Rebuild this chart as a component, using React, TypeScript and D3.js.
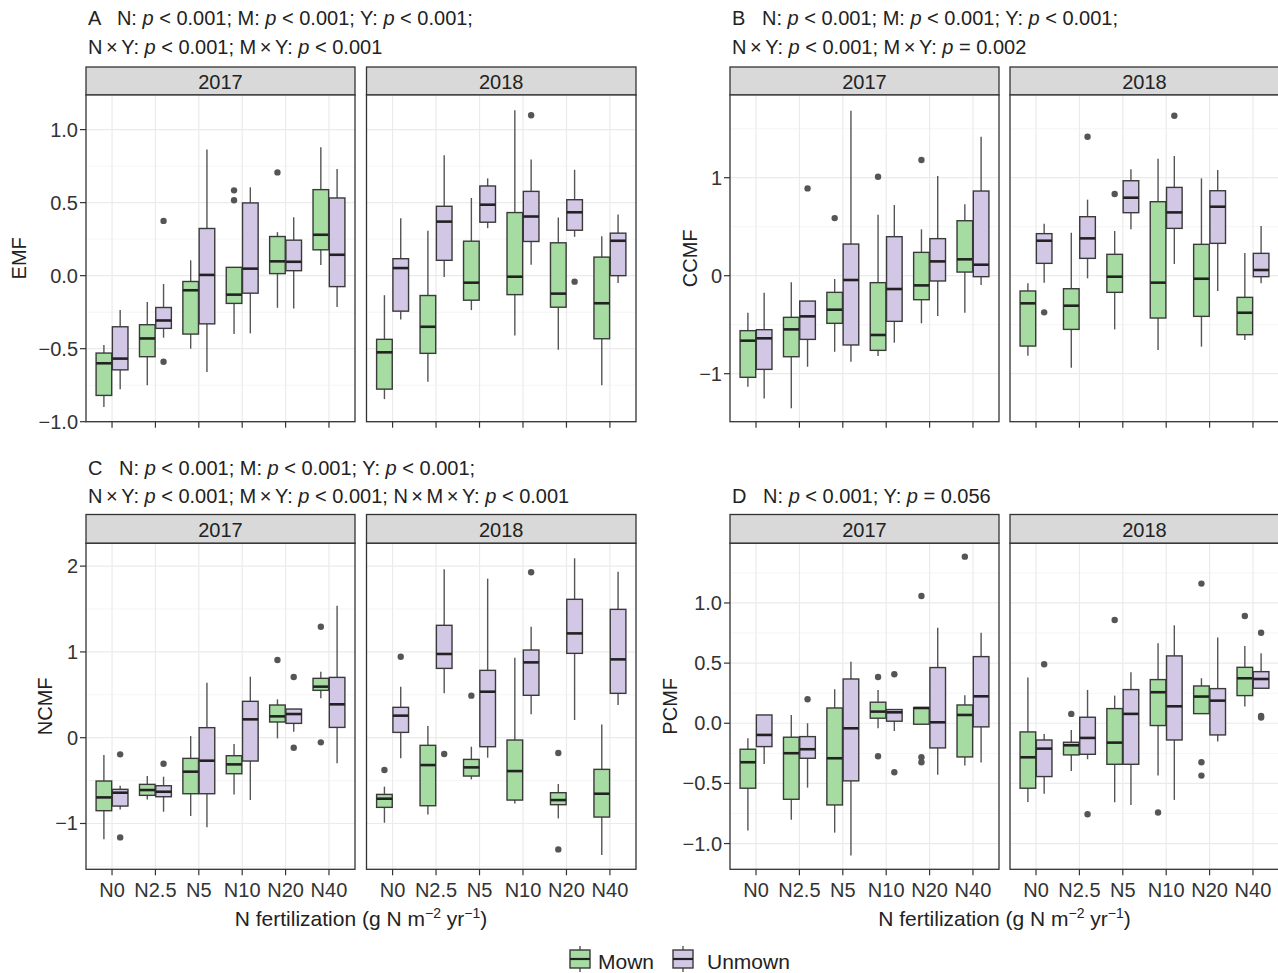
import * as d3 from "d3";

const levels = ["N0", "N2.5", "N5", "N10", "N20", "N40"];
const years = ["2017", "2018"];
const groups = ["Mown", "Unmown"];
const fillColor: Record<string, string> = { Mown: "#a6dba1", Unmown: "#d2c7e4" };

// box stats per N level: [lower whisker, Q1, median, Q3, upper whisker]
const emf2017Mown = [[-0.9, -0.82, -0.6, -0.53, -0.475], [-0.75, -0.555, -0.43, -0.336, -0.18], [-0.5, -0.4, -0.1, -0.04, 0.105], [-0.4, -0.19, -0.13, 0.057, 0.057], [-0.22, 0.014, 0.098, 0.268, 0.298], [0.073, 0.177, 0.28, 0.589, 0.88]];
const emf2017Unmown = [[-0.777, -0.645, -0.568, -0.35, -0.236], [-0.425, -0.361, -0.307, -0.218, -0.057], [-0.66, -0.33, 0.005, 0.323, 0.864], [-0.395, -0.12, 0.048, 0.498, 0.605], [-0.225, 0.034, 0.095, 0.243, 0.4], [-0.214, -0.075, 0.143, 0.532, 0.73]];
const emf2018Mown = [[-0.845, -0.777, -0.525, -0.436, -0.134], [-0.727, -0.532, -0.35, -0.136, 0.307], [-0.236, -0.168, -0.048, 0.236, 0.532], [-0.409, -0.13, -0.007, 0.432, 1.132], [-0.507, -0.216, -0.123, 0.225, 0.398], [-0.75, -0.432, -0.189, 0.127, 0.27]];
const emf2018Unmown = [[-0.3, -0.243, 0.052, 0.116, 0.393], [-0.009, 0.105, 0.37, 0.475, 0.825], [0.325, 0.366, 0.486, 0.614, 0.666], [0.075, 0.234, 0.405, 0.577, 0.795], [0.266, 0.311, 0.434, 0.52, 0.725], [-0.05, 0.0, 0.239, 0.291, 0.418]];
const emf2017MownOut = [[], [], [], [0.584, 0.516], [0.707], []];
const emf2017UnmownOut = [[], [0.375, -0.59], [], [], [], []];
const emf2018MownOut = [[], [], [], [], [], []];
const emf2018UnmownOut = [[], [], [], [1.098], [-0.041], []];

const ccmf2017Mown = [[-1.133, -1.037, -0.663, -0.561, -0.378], [-1.354, -0.827, -0.548, -0.425, -0.068], [-0.776, -0.486, -0.347, -0.17, -0.034], [-0.82, -0.762, -0.605, -0.071, 0.622], [-0.486, -0.245, -0.099, 0.238, 0.473], [-0.378, 0.037, 0.167, 0.561, 0.728]];
const ccmf2017Unmown = [[-1.252, -0.956, -0.639, -0.551, -0.173], [-0.929, -0.65, -0.415, -0.259, -0.259], [-0.878, -0.707, -0.044, 0.323, 1.684], [-0.684, -0.466, -0.136, 0.398, 0.721], [-0.412, -0.054, 0.146, 0.378, 1.017], [-0.095, -0.01, 0.112, 0.864, 1.418]];
const ccmf2018Mown = [[-0.816, -0.718, -0.282, -0.156, -0.078], [-0.939, -0.548, -0.306, -0.133, 0.439], [-0.548, -0.17, -0.01, 0.218, 0.456], [-0.759, -0.432, -0.071, 0.755, 1.194], [-0.724, -0.415, -0.031, 0.32, 0.993], [-0.656, -0.602, -0.378, -0.221, 0.231]];
const ccmf2018Unmown = [[-0.071, 0.126, 0.357, 0.429, 0.531], [-0.027, 0.177, 0.381, 0.602, 0.776], [0.473, 0.643, 0.796, 0.969, 1.085], [0.119, 0.483, 0.646, 0.901, 1.221], [-0.156, 0.33, 0.704, 0.867, 1.078], [-0.078, -0.01, 0.058, 0.228, 0.507]];
const ccmf2017MownOut = [[], [], [0.588], [1.01], [1.18], []];
const ccmf2017UnmownOut = [[], [0.891], [], [], [], []];
const ccmf2018MownOut = [[], [], [0.833], [], [], []];
const ccmf2018UnmownOut = [[-0.374], [1.418], [], [1.633], [], []];

const ncmf2017Mown = [[-1.185, -0.851, -0.696, -0.505, -0.202], [-0.719, -0.672, -0.61, -0.544, -0.447], [-0.913, -0.653, -0.396, -0.241, 0.019], [-0.661, -0.42, -0.311, -0.21, -0.074], [-0.008, 0.183, 0.249, 0.381, 0.447], [0.459, 0.552, 0.595, 0.692, 0.77]];
const ncmf2017Unmown = [[-0.836, -0.797, -0.641, -0.602, -0.56], [-0.863, -0.688, -0.63, -0.56, -0.455], [-1.045, -0.653, -0.268, 0.117, 0.641], [-0.727, -0.272, 0.214, 0.424, 0.711], [0.07, 0.167, 0.276, 0.334, 0.334], [-0.299, 0.12, 0.389, 0.703, 1.539]];
const ncmf2018Mown = [[-0.991, -0.812, -0.711, -0.661, -0.571], [-0.894, -0.793, -0.319, -0.089, 0.136], [-0.486, -0.447, -0.346, -0.253, -0.105], [-0.766, -0.727, -0.389, -0.027, 0.933], [-0.941, -0.781, -0.727, -0.641, -0.54], [-1.368, -0.925, -0.653, -0.369, 0.155]];
const ncmf2018Unmown = [[-0.241, 0.062, 0.257, 0.354, 0.595], [0.517, 0.808, 0.976, 1.31, 1.963], [-0.233, -0.105, 0.536, 0.785, 1.854], [0.272, 0.494, 0.878, 1.022, 1.294], [0.206, 0.983, 1.216, 1.613, 2.091], [0.381, 0.517, 0.913, 1.496, 1.935]];
const ncmf2017MownOut = [[], [], [], [], [0.906], [1.294, -0.054]];
const ncmf2017UnmownOut = [[-0.194, -1.162], [-0.303], [], [], [0.707, -0.117], []];
const ncmf2018MownOut = [[-0.377], [], [0.49], [], [-0.179, -1.302], []];
const ncmf2018UnmownOut = [[0.944], [-0.19], [], [1.928], [], []];

const pcmf2017Mown = [[-0.892, -0.54, -0.324, -0.216, -0.125], [-0.803, -0.632, -0.249, -0.116, 0.069], [-0.909, -0.679, -0.291, 0.127, 0.283], [-0.042, 0.042, 0.097, 0.175, 0.277], [-0.008, -0.008, 0.127, 0.13, 0.13], [-0.352, -0.28, 0.069, 0.152, 0.233]];
const pcmf2017Unmown = [[-0.338, -0.194, -0.097, 0.069, 0.069], [-0.535, -0.291, -0.216, -0.111, 0.0], [-1.1, -0.479, -0.042, 0.368, 0.512], [-0.064, 0.017, 0.091, 0.114, 0.114], [-0.429, -0.205, 0.008, 0.463, 0.795], [-0.327, -0.03, 0.224, 0.554, 0.753]];
const pcmf2018Mown = [[-0.654, -0.54, -0.283, -0.072, 0.38], [-0.396, -0.263, -0.183, -0.158, -0.055], [-0.657, -0.341, -0.161, 0.122, 0.23], [-0.435, -0.019, 0.258, 0.363, 0.665], [0.08, 0.08, 0.222, 0.31, 0.374], [0.139, 0.23, 0.374, 0.465, 0.643]];
const pcmf2018Unmown = [[-0.587, -0.443, -0.211, -0.139, -0.089], [-0.299, -0.258, -0.122, 0.05, 0.277], [-0.679, -0.341, 0.078, 0.28, 0.424], [-0.637, -0.139, 0.141, 0.56, 0.814], [-0.152, -0.097, 0.188, 0.288, 0.712], [0.291, 0.291, 0.368, 0.429, 0.582]];
const pcmf2017MownOut = [[], [], [], [0.385, -0.274], [1.058, -0.283, -0.324], [1.385]];
const pcmf2017UnmownOut = [[], [0.199], [], [0.407, -0.407], [], []];
const pcmf2018MownOut = [[], [0.078], [0.859], [-0.742], [1.161, -0.324, -0.435], [0.892]];
const pcmf2018UnmownOut = [[0.49], [-0.756], [], [], [], [0.753, 0.061, 0.047]];

const panels = [
  {
    letter: "A", yTitle: "EMF", col: 0, row: 0, yDomain: [-1.0, 1.237], yTicks: [-1, -0.5, 0, 0.5, 1], fmt: ".1f", titleX: 19,
    lines: [[["A   N: ", 0], ["p", 1], [" < 0.001; M: ", 0], ["p", 1], [" < 0.001; Y: ", 0], ["p", 1], [" < 0.001;", 0]],
            [["N×Y: ", 0], ["p", 1], [" < 0.001; M×Y: ", 0], ["p", 1], [" < 0.001", 0]]],
    stats: { "2017": [emf2017Mown, emf2017Unmown], "2018": [emf2018Mown, emf2018Unmown] },
    outs: { "2017": [emf2017MownOut, emf2017UnmownOut], "2018": [emf2018MownOut, emf2018UnmownOut] },
  },
  {
    letter: "B", yTitle: "CCMF", col: 1, row: 0, yDomain: [-1.49, 1.844], yTicks: [-1, 0, 1], fmt: "d", titleX: 690,
    lines: [[["B   N: ", 0], ["p", 1], [" < 0.001; M: ", 0], ["p", 1], [" < 0.001; Y: ", 0], ["p", 1], [" < 0.001;", 0]],
            [["N×Y: ", 0], ["p", 1], [" < 0.001; M×Y: ", 0], ["p", 1], [" = 0.002", 0]]],
    stats: { "2017": [ccmf2017Mown, ccmf2017Unmown], "2018": [ccmf2018Mown, ccmf2018Unmown] },
    outs: { "2017": [ccmf2017MownOut, ccmf2017UnmownOut], "2018": [ccmf2018MownOut, ccmf2018UnmownOut] },
  },
  {
    letter: "C", yTitle: "NCMF", col: 0, row: 1, yDomain: [-1.534, 2.266], yTicks: [-1, 0, 1, 2], fmt: "d", titleX: 45,
    lines: [[["C   N: ", 0], ["p", 1], [" < 0.001; M: ", 0], ["p", 1], [" < 0.001; Y: ", 0], ["p", 1], [" < 0.001;", 0]],
            [["N×Y: ", 0], ["p", 1], [" < 0.001; M×Y: ", 0], ["p", 1], [" < 0.001; N×M×Y: ", 0], ["p", 1], [" < 0.001", 0]]],
    stats: { "2017": [ncmf2017Mown, ncmf2017Unmown], "2018": [ncmf2018Mown, ncmf2018Unmown] },
    outs: { "2017": [ncmf2017MownOut, ncmf2017UnmownOut], "2018": [ncmf2018MownOut, ncmf2018UnmownOut] },
  },
  {
    letter: "D", yTitle: "PCMF", col: 1, row: 1, yDomain: [-1.214, 1.496], yTicks: [-1, -0.5, 0, 0.5, 1], fmt: ".1f", titleX: 670,
    lines: [[["D   N: ", 0], ["p", 1], [" < 0.001; Y: ", 0], ["p", 1], [" = 0.056", 0]]],
    stats: { "2017": [pcmf2017Mown, pcmf2017Unmown], "2018": [pcmf2018Mown, pcmf2018Unmown] },
    outs: { "2017": [pcmf2017MownOut, pcmf2017UnmownOut], "2018": [pcmf2018MownOut, pcmf2018UnmownOut] },
  },
];

const FONT = "'Liberation Sans', Arial, Helvetica, sans-serif";
const colFacets = [[[86, 355], [366.5, 636]], [[730, 999], [1010, 1279]]];
const rowY = [
  { strip: 67, top: 95, bottom: 421.7, t1: 25, t2: 54 },
  { strip: 514.5, top: 543.3, bottom: 869.3, t1: 475, t2: 503 },
];

// the × sign is set a bit wider in the original, pad it on both sides
function segment(s: any, j: number) {
  const parts = String(s[0]).split("×");
  return parts.map((part, k) => (
    <tspan key={j + "-" + k} fontStyle={s[1] ? "italic" : "normal"}>
      {k > 0 && <tspan dx={3.5}>×</tspan>}
      {k > 0 ? <tspan dx={3.5}>{part}</tspan> : part}
    </tspan>
  ));
}

function Panel({ p }: { p: any }) {
  const r = rowY[p.row];
  const facets = colFacets[p.col];
  const y = d3.scaleLinear().domain(p.yDomain).range([r.bottom, r.top]);
  const fmt = d3.format(p.fmt);
  const minor: number[] = [];
  const stepT = p.yTicks[1] - p.yTicks[0];
  for (let v = p.yTicks[0] - stepT / 2; v < p.yDomain[1]; v += stepT) {
    if (v > p.yDomain[0]) minor.push(v);
  }
  const left = facets[0][0];
  const lineYs = p.lines.length === 2 ? [r.t1, r.t2] : [r.t2];
  const midY = (r.top + r.bottom) / 2;
  const xTitleX = (facets[0][0] + facets[1][1]) / 2;

  return (
    <g>
      {p.lines.map((ln: any[], i: number) => (
        <text key={i} x={left + 2} y={lineYs[i]} fontSize={20} fill="#222" fontFamily={FONT} style={{ whiteSpace: "pre" }}>
          {ln.map((s: any, j: number) => segment(s, j))}
        </text>
      ))}
      <text transform={`translate(${p.titleX},${midY}) rotate(-90)`} textAnchor="middle" dominantBaseline="central"
        fontSize={20} fill="#222" fontFamily={FONT}>{p.yTitle}</text>
      {p.yTicks.map((t: number) => (
        <g key={t}>
          <line x1={left - 6} x2={left} y1={y(t)} y2={y(t)} stroke="#333" strokeWidth={1.2} />
          <text x={left - 8} y={y(t)} textAnchor="end" dominantBaseline="central" fontSize={20} fill="#333" fontFamily={FONT}>{fmt(t)}</text>
        </g>
      ))}
      {years.map((yr, fi) => {
        const [x0, x1] = facets[fi];
        const x = d3.scalePoint().domain(levels).range([x0, x1]).padding(0.6);
        const step = x.step();
        const bw = step * 0.36;
        return (
          <g key={yr}>
            <rect x={x0} y={r.strip} width={x1 - x0} height={r.top - r.strip} fill="#d9d9d9" stroke="#333" strokeWidth={1.3} />
            <text x={(x0 + x1) / 2} y={(r.strip + r.top) / 2 + 1} textAnchor="middle" dominantBaseline="central" fontSize={20} fill="#222" fontFamily={FONT}>{yr}</text>
            <rect x={x0} y={r.top} width={x1 - x0} height={r.bottom - r.top} fill="#fff" />
            {minor.map((v) => <line key={"m" + v} x1={x0} x2={x1} y1={y(v)} y2={y(v)} stroke="#f3f3f3" strokeWidth={0.8} />)}
            {p.yTicks.map((t: number) => <line key={"g" + t} x1={x0} x2={x1} y1={y(t)} y2={y(t)} stroke="#ebebeb" strokeWidth={1.2} />)}
            {levels.map((l) => <line key={"v" + l} x1={x(l)!} x2={x(l)!} y1={r.top} y2={r.bottom} stroke="#ebebeb" strokeWidth={1.2} />)}
            {groups.map((g, gi) => (
              <g key={g}>
                {p.stats[yr][gi].map((s: number[], li: number) => {
                  const cx = x(levels[li])! + (gi === 0 ? -1 : 1) * step * 0.1875;
                  return (
                    <g key={li}>
                      <line x1={cx} x2={cx} y1={y(s[4])} y2={y(s[3])} stroke="#555" strokeWidth={1.4} />
                      <line x1={cx} x2={cx} y1={y(s[1])} y2={y(s[0])} stroke="#555" strokeWidth={1.4} />
                      <rect x={cx - bw / 2} y={y(s[3])} width={bw} height={Math.max(0.5, y(s[1]) - y(s[3]))}
                        fill={fillColor[g]} stroke="#3a3a3a" strokeWidth={1.4} />
                      <line x1={cx - bw / 2} x2={cx + bw / 2} y1={y(s[2])} y2={y(s[2])} stroke="#222" strokeWidth={2.6} />
                      {p.outs[yr][gi][li].map((o: number, oi: number) => (
                        <circle key={oi} cx={cx} cy={y(o)} r={3.2} fill="#555" />
                      ))}
                    </g>
                  );
                })}
              </g>
            ))}
            <rect x={x0} y={r.top} width={x1 - x0} height={r.bottom - r.top} fill="none" stroke="#333" strokeWidth={1.3} />
            {levels.map((l) => (
              <g key={"t" + l}>
                <line x1={x(l)!} x2={x(l)!} y1={r.bottom} y2={r.bottom + 6} stroke="#333" strokeWidth={1.2} />
                {p.row === 1 && (
                  <text x={x(l)!} y={897} textAnchor="middle" fontSize={20} fill="#333" fontFamily={FONT}>{l}</text>
                )}
              </g>
            ))}
          </g>
        );
      })}
      {p.row === 1 && (
        <text x={xTitleX} y={926} textAnchor="middle" fontSize={21} fill="#222" fontFamily={FONT}>
          N fertilization (g N m<tspan dy={-8} fontSize={14}>−2</tspan><tspan dy={8}> yr</tspan><tspan dy={-8} fontSize={14}>−1</tspan><tspan dy={8}>)</tspan>
        </text>
      )}
    </g>
  );
}

function LegendKey({ x, fill }: { x: number; fill: string }) {
  const cx = x + 11;
  return (
    <g>
      <line x1={cx} x2={cx} y1={946} y2={950} stroke="#555" strokeWidth={1.4} />
      <line x1={cx} x2={cx} y1={968} y2={972} stroke="#555" strokeWidth={1.4} />
      <rect x={x + 1} y={950} width={20} height={18} fill={fill} stroke="#3a3a3a" strokeWidth={1.4} />
      <line x1={x + 1} x2={x + 21} y1={959} y2={959} stroke="#222" strokeWidth={2.2} />
    </g>
  );
}

export default function App() {
  return (
    <svg width={1278} height={973} style={{ position: "absolute", left: 0, top: 0, background: "#fff" }}>
      <rect width={1278} height={973} fill="#fff" />
      {panels.map((p) => <Panel key={p.letter} p={p} />)}
      <LegendKey x={569} fill={fillColor.Mown} />
      <text x={598} y={969} fontSize={21} fill="#222" fontFamily={FONT}>Mown</text>
      <LegendKey x={672} fill={fillColor.Unmown} />
      <text x={707} y={969} fontSize={21} fill="#222" fontFamily={FONT}>Unmown</text>
    </svg>
  );
}
